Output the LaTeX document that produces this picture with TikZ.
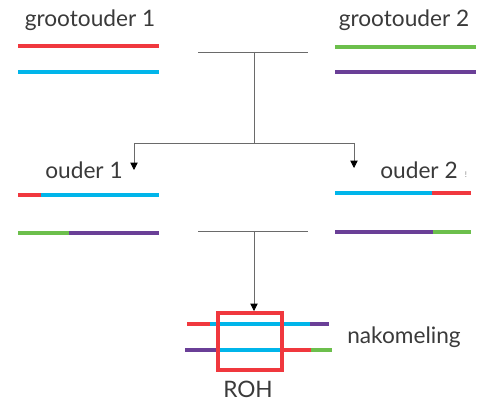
\documentclass[tikz,border=0pt]{standalone}
\usepackage{fontspec}
\setmainfont{Lato}
\usetikzlibrary{arrows.meta}
\definecolor{cred}{HTML}{F0383E}
\definecolor{cblue}{HTML}{00B5EA}
\definecolor{cgreen}{HTML}{6CBF4C}
\definecolor{cpurple}{HTML}{6A3F97}
\definecolor{ctext}{HTML}{3A3A3A}
\definecolor{cline}{HTML}{6A6A6A}
\tikzset{
  chrom/.style={line width=3pt},
  link/.style={draw=cline, line width=0.6pt},
  arr/.style={link, -{Triangle[length=5.5pt,width=5.5pt,color=black]}},
  lbl/.style={text=ctext, font=\fontsize{17}{19}\selectfont, inner sep=0pt},
}
\begin{document}
\begin{tikzpicture}[x=0.75pt, y=-0.75pt]
\useasboundingbox (0,0) rectangle (481,402);

% labels
\node[lbl] (g1) at (90,20) {grootouder 1};
\node[lbl] (g2) at (404,20) {grootouder 2};
\node[lbl] (o1) at (84,170) {ouder 1};
\node[lbl] (o2) at (419,170) {ouder 2};
\node[lbl] (kid) at (404,337) {nakomeling};
\node[lbl] (roh) at (248,389) {ROH};
\node[text=ctext!60, font=\fontsize{6}{7}\selectfont, inner sep=0pt] (mark) at (466,175) {!};

% grandparent chromosomes
\draw[chrom, cred] (18,46) -- (159,46);
\draw[chrom, cblue] (18,72) -- (159,72);
\draw[chrom, cgreen] (335,47) -- (476,47);
\draw[chrom, cpurple] (335,72) -- (476,72);

% parent chromosomes
\draw[chrom, cred] (18,195) -- (41,195);
\draw[chrom, cblue] (41,195) -- (159,195);
\draw[chrom, cgreen] (18,233) -- (69,233);
\draw[chrom, cpurple] (69,233) -- (159,233);

\draw[chrom, cblue] (335,193) -- (432,193);
\draw[chrom, cred] (432,193) -- (471,193);
\draw[chrom, cpurple] (335,232) -- (433,232);
\draw[chrom, cgreen] (433,232) -- (471,232);

% offspring chromosomes
\draw[chrom, cred] (187,324) -- (210,324);
\draw[chrom, cblue] (210,324) -- (310,324);
\draw[chrom, cpurple] (310,324) -- (329,324);
\draw[chrom, cpurple] (185,350) -- (216,350);
\draw[chrom, cblue] (216,350) -- (280,350);
\draw[chrom, cred] (280,350) -- (311,350);
\draw[chrom, cgreen] (311,350) -- (332,350);

% run of homozygosity
\node[draw=cred, line width=3pt, minimum width=64pt*0.75, minimum height=57pt*0.75, inner sep=0pt] (box) at (250,341.5) {};

% pedigree connectors
\coordinate (m1) at (198,52);
\coordinate (m1r) at (308,52);
\coordinate (m1c) at (254,52);
\coordinate (j1) at (254,143);
\coordinate (l1) at (134,143);
\coordinate (r1) at (354,143);
\coordinate (a1) at (134,170);
\coordinate (a2) at (354,168);
\draw[link] (m1) -- (m1r);
\draw[link] (m1c) -- (j1);
\draw[link] (l1) -- (r1);
\draw[arr] (l1) -- (a1);
\draw[arr] (r1) -- (a2);

\coordinate (m2) at (198,231);
\coordinate (m2r) at (308,231);
\coordinate (m2c) at (254,231);
\draw[link] (m2) -- (m2r);
\draw[arr] (m2c) -- (box.north -| m2c);
\end{tikzpicture}
\end{document}
